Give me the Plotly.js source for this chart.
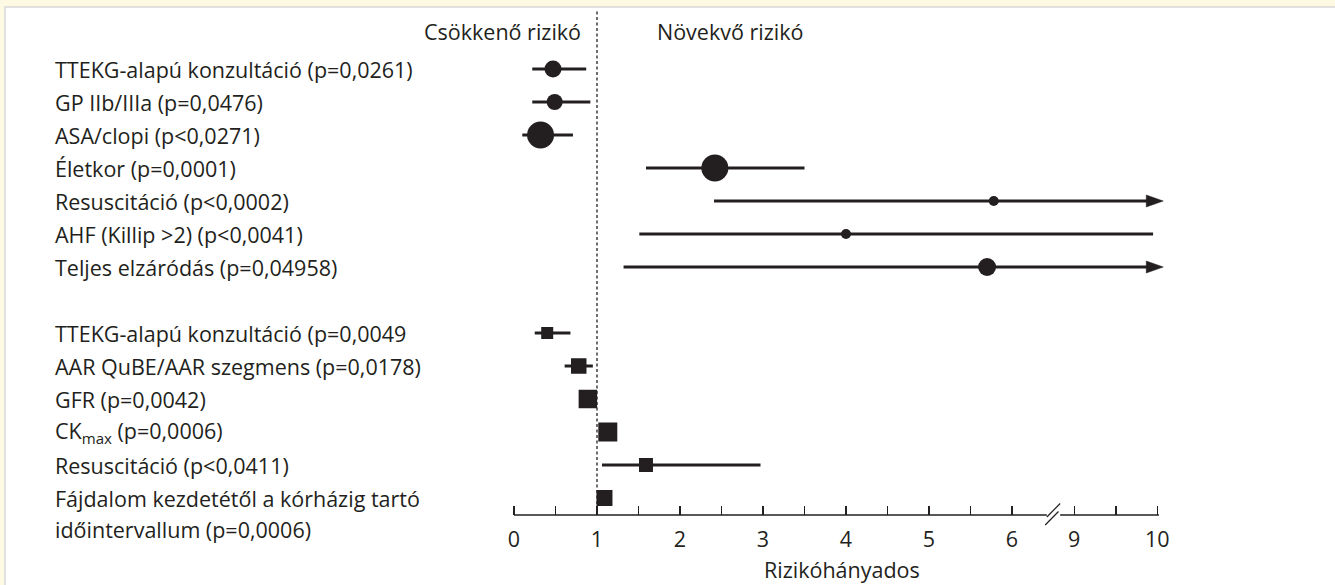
<!DOCTYPE html>
<html>
<head>
<meta charset="utf-8">
<script src="https://cdn.plot.ly/plotly-3.0.1.min.js"></script>
<style>
  html, body { margin: 0; padding: 0; background: #fdf9e3; }
  #chart { width: 1335px; height: 585px; }
</style>
</head>
<body>
<div id="chart"></div>
<script>
// ---------- DATA ----------
const topLabels = [
  "TTEKG-alapú konzultáció (p=0,0261)",
  "GP IIb/IIIa (p=0,0476)",
  "ASA/clopi (p<0,0271)",
  "Életkor (p=0,0001)",
  "Resuscitáció (p<0,0002)",
  "AHF (Killip >2) (p<0,0041)",
  "Teljes elzáródás (p=0,04958)"
];
const topEst = [0.47, 0.49, 0.32, 2.42, 5.78, 4.0, 5.7];
const topLo  = [0.22, 0.22, 0.10, 1.59, 2.41, 1.51, 1.32];
const topHi  = [0.87, 0.92, 0.71, 3.50, 10, 9.95, 10];
const topOffScale = [false, false, false, false, true, false, true];

const bottomLabels = [
  "TTEKG-alapú konzultáció (p=0,0049",
  "AAR QuBE/AAR szegmens (p=0,0178)",
  "GFR (p=0,0042)",
  "CK<sub>max</sub> (p=0,0006)",
  "Resuscitáció (p<0,0411)",
  "Fájdalom kezdetétől a kórházig tartó<br>időintervallum (p=0,0006)"
];
const bottomEst = [0.40, 0.78, 0.89, 1.13, 1.59, 1.09];
const bottomLo  = [0.25, 0.61, 0.89, 1.13, 1.06, 1.09];
const bottomHi  = [0.68, 0.95, 0.89, 1.13, 2.97, 1.09];

const tickValues = [0, 0.5, 1, 1.5, 2, 2.5, 3, 3.5, 4, 4.5, 5, 5.5, 6, 9, 9.5, 10];
const tickLabels = ["0", "", "1", "", "2", "", "3", "", "4", "", "5", "", "6", "9", "", "10"];
const axisTitle = "Rizikóhányados";
const headerLeft = "Csökkenő rizikó";
const headerRight = "Növekvő rizikó";
const refValue = 1;
const axisMax = 10;

// ---------- STYLE ----------
const topSizes = [17, 16, 27, 27, 10, 10, 18];
const bottomSizes = [12, 15.5, 18.5, 19, 14, 16];
const INK = "#231f20";
const FONT = "'Open Sans', Lato, sans-serif";
const FS = 21.5;

// broken axis: 6 .. 9 compressed into 0.75 display units
const BRK_A = 6, BRK_B = 9, BRK_W = 0.75;
function pos(v) { return v <= BRK_A ? v : v - (BRK_B - BRK_A) + BRK_W; }

const W = 1335, H = 585;
const PX0 = 514, PXU = 83;          // pixel of value 0, pixels per unit
const TOP = 10, AXY = 515;          // plot top, axis line pixel
const ROW0 = 69, ROWH = 33;         // first row pixel, row height
function py(p) { return (AXY - p) / (AXY - TOP); }   // pixel -> paper y
function pxp(p) { return p / W; }                    // pixel -> paper x

// arrow head geometry (px)
const HEAD_L = 17, HEAD_HALF = 6, TIP_PAST = 6;

const topRows = topLabels.map((_, i) => i);
const bottomRows = bottomLabels.map((_, i) => topLabels.length + 1 + i);

function errPlus(est, hi, off) {
  return est.map((e, i) => off && off[i]
    ? pos(axisMax) + (TIP_PAST - HEAD_L + 4) / PXU - pos(e)
    : pos(hi[i]) - pos(e));
}
function errMinus(est, lo) { return est.map((e, i) => pos(e) - pos(lo[i])); }

const traces = [
  {
    type: "scatter", mode: "markers",
    x: topEst.map(pos), y: topRows,
    marker: { symbol: "circle", size: topSizes, color: INK, opacity: 1, line: { width: 0 } },
    error_x: { type: "data", symmetric: false,
      array: errPlus(topEst, topHi, topOffScale),
      arrayminus: errMinus(topEst, topLo),
      thickness: 3, width: 0, color: INK },
    hoverinfo: "skip", showlegend: false, cliponaxis: false
  },
  {
    type: "scatter", mode: "markers",
    x: bottomEst.map(pos), y: bottomRows,
    marker: { symbol: "square", size: bottomSizes, color: INK, opacity: 1, line: { width: 0 } },
    error_x: { type: "data", symmetric: false,
      array: errPlus(bottomEst, bottomHi, null),
      arrayminus: errMinus(bottomEst, bottomLo),
      thickness: 3, width: 0, color: INK },
    hoverinfo: "skip", showlegend: false, cliponaxis: false
  }
];

const annotations = [];
function addLabel(text, row) {
  text.split("<br>").forEach((line, k) => {
    annotations.push({
      text: line, xref: "paper", x: pxp(53), xanchor: "left",
      yref: "y", y: row, yanchor: "middle", yshift: -31 * k,
      showarrow: false, font: { family: FONT, size: FS, color: INK }
    });
  });
}
topLabels.forEach((t, i) => addLabel(t, topRows[i]));
bottomLabels.forEach((t, i) => addLabel(t, bottomRows[i]));

annotations.push(
  { text: headerLeft, xref: "paper", x: pxp(583), xanchor: "right",
    yref: "paper", y: py(31), yanchor: "middle", showarrow: false,
    font: { family: FONT, size: FS, color: INK } },
  { text: headerRight, xref: "paper", x: pxp(655), xanchor: "left",
    yref: "paper", y: py(31), yanchor: "middle", showarrow: false,
    font: { family: FONT, size: FS, color: INK } },
  { text: axisTitle, xref: "paper", x: pxp(842), xanchor: "center",
    yref: "paper", y: py(569), yanchor: "middle", showarrow: false,
    font: { family: FONT, size: FS, color: INK } }
);

const shapes = [
  // white panel with thin grey border
  { type: "rect", xref: "paper", yref: "paper", layer: "below",
    x0: pxp(5), x1: pxp(W + 10), y0: py(H + 10), y1: py(7),
    fillcolor: "#ffffff", line: { color: "#d8d8d8", width: 1.5 } },
  // reference line at 1
  { type: "line", xref: "x", yref: "paper", x0: pos(refValue), x1: pos(refValue),
    y0: 0, y1: 1, line: { color: INK, width: 1.3, dash: "3px,2.5px" } },
  // axis line (broken)
  { type: "line", xref: "x", yref: "paper", x0: pos(0), x1: 6.42, y0: 0, y1: 0,
    line: { color: INK, width: 1.5 } },
  { type: "line", xref: "x", yref: "paper", x0: 6.58, x1: pos(axisMax) + 0.02, y0: 0, y1: 0,
    line: { color: INK, width: 1.5 } },
  // break marks
  { type: "line", xref: "x", yref: "paper", x0: 6.40, x1: 6.56, y0: py(525), y1: py(511.5),
    line: { color: INK, width: 1.2 } },
  { type: "line", xref: "x", yref: "paper", x0: 6.42, x1: 6.58, y0: py(517), y1: py(503.5),
    line: { color: INK, width: 1.2 } }
];

// arrow heads for off-scale upper limits
topOffScale.forEach((f, i) => {
  if (!f) return;
  const tip = pos(axisMax) + TIP_PAST / PXU;
  const base = tip - HEAD_L / PXU;
  const r = topRows[i], dh = HEAD_HALF / ROWH;
  shapes.push({
    type: "path", xref: "x", yref: "y", layer: "above",
    path: `M${tip},${r} L${base},${r - dh} L${base},${r + dh} Z`,
    fillcolor: INK, line: { color: INK, width: 0.5 }
  });
});

const layout = {
  width: W, height: H,
  margin: { l: 0, r: 0, t: TOP, b: H - AXY, pad: 0 },
  paper_bgcolor: "#fdf9e3",
  plot_bgcolor: "rgba(0,0,0,0)",
  showlegend: false,
  xaxis: {
    range: [-PX0 / PXU, (W - PX0) / PXU],
    tickvals: tickValues.map(pos), ticktext: tickLabels,
    ticks: "inside", ticklen: 9, tickwidth: 1.5, tickcolor: INK,
    tickfont: { family: FONT, size: FS, color: INK },
    showgrid: false, zeroline: false, showline: false, fixedrange: true,
    ticklabelstandoff: 9
  },
  yaxis: {
    range: [(AXY - ROW0) / ROWH, (TOP - ROW0) / ROWH],
    showgrid: false, zeroline: false, showline: false, showticklabels: false,
    ticks: "", fixedrange: true
  },
  annotations: annotations,
  shapes: shapes
};

Plotly.newPlot("chart", traces, layout, { displayModeBar: false, staticPlot: true });
</script>
</body>
</html>
